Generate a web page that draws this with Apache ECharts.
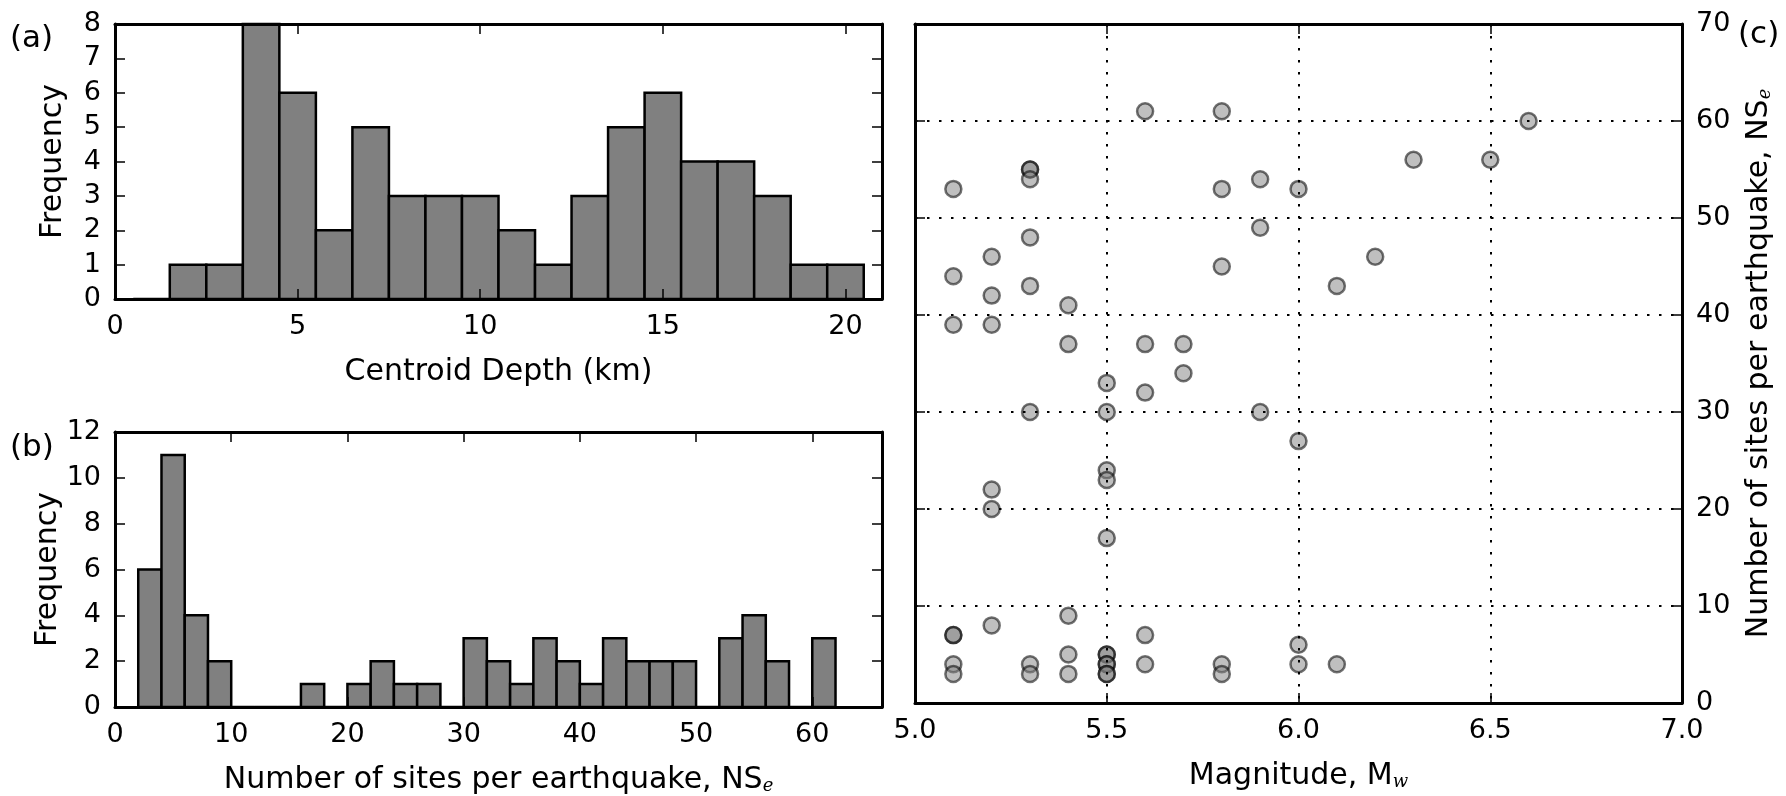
<!DOCTYPE html>
<html>
<head>
<meta charset="utf-8">
<script src="https://cdn.jsdelivr.net/npm/echarts@6/dist/echarts.min.js"></script>
<style>
  html, body { margin: 0; padding: 0; background: #fff; }
  #chart { width: 1786px; height: 796px; }
</style>
</head>
<body>
<div id="chart"></div>
<script>
// (a) Centroid depth histogram: bin edges (km) and counts
const depthEdges = [0.5, 1.5, 2.5, 3.5, 4.5, 5.5, 6.5, 7.5, 8.5, 9.5, 10.5,
                    11.5, 12.5, 13.5, 14.5, 15.5, 16.5, 17.5, 18.5, 19.5, 20.5];
const depthCounts = [0, 1, 1, 8, 6, 2, 5, 3, 3, 3, 2, 1, 3, 5, 6, 4, 4, 3, 1, 1];

// (b) Sites-per-earthquake histogram: bin edges and counts
const sitesEdges = [2, 4, 6, 8, 10, 12, 14, 16, 18, 20, 22, 24, 26, 28, 30, 32,
                    34, 36, 38, 40, 42, 44, 46, 48, 50, 52, 54, 56, 58, 60, 62];
const sitesCounts = [6, 11, 4, 2, 0, 0, 0, 1, 0, 1, 2, 1, 1, 0, 3, 2,
                     1, 3, 2, 1, 3, 2, 2, 2, 0, 3, 4, 2, 0, 3];

// (c) Magnitude vs number of sites, one entry per earthquake
const magnitude = [5.6, 5.8, 6.6, 6.3, 6.5, 5.3, 5.3, 5.3, 5.9, 5.1, 5.8, 6.0,
                   5.9, 5.3, 5.2, 6.2, 5.8, 5.1, 5.3, 6.1, 5.2, 5.4, 5.1, 5.2,
                   5.4, 5.6, 5.7, 5.7, 5.5, 5.6, 5.3, 5.5, 5.9, 6.0, 5.5, 5.5,
                   5.2, 5.2, 5.5, 5.4, 5.2, 5.1, 5.1, 5.6, 6.0, 5.4, 5.5, 5.5,
                   5.1, 5.3, 5.5, 5.5, 5.6, 5.8, 6.0, 6.1, 5.1, 5.3, 5.4, 5.5,
                   5.5, 5.8];
const numSites = [61, 61, 60, 56, 56, 55, 55, 54, 54, 53, 53, 53,
                  49, 48, 46, 46, 45, 44, 43, 43, 42, 41, 39, 39,
                  37, 37, 37, 34, 33, 32, 30, 30, 30, 27, 24, 23,
                  22, 20, 17, 9, 8, 7, 7, 7, 6, 5, 5, 5,
                  4, 4, 4, 4, 4, 4, 4, 4, 3, 3, 3, 3,
                  3, 3];

// Tick settings
const depthTicks = { min: 0, max: 21, interval: 5 };
const depthFreqTicks = { min: 0, max: 8, interval: 1 };
const sitesTicks = { min: 0, max: 66, interval: 10 };
const sitesFreqTicks = { min: 0, max: 12, interval: 2 };
const magTicks = { min: 5.0, max: 7.0, interval: 0.5 };
const nsTicks = { min: 0, max: 70, interval: 10 };

const FONT = 'DejaVu Sans';
const TICK_FS = 27;
const NAME_FS = 30;

function binsToData(edges, counts) {
  return counts.map((c, i) => [edges[i], edges[i + 1], c]);
}

function histRender(params, api) {
  const p0 = api.coord([api.value(0), 0]);
  const p1 = api.coord([api.value(1), api.value(2)]);
  return {
    type: 'rect',
    shape: { x: p0[0], y: p1[1], width: p1[0] - p0[0], height: p0[1] - p1[1] },
    style: { fill: '#808080', stroke: '#000', lineWidth: 2.5 }
  };
}

const frameLine = { show: true, onZero: false, lineStyle: { color: '#000', width: 3 } };
const innerTick = { show: true, inside: true, length: 10, lineStyle: { color: '#000', width: 1.5 } };
const dotted = { show: true, lineStyle: { color: '#000', width: 2, type: [2.5, 9.5] } };

function mainAxis(grid, ticks, position, extra) {
  return Object.assign({
    type: 'value', gridIndex: grid, position: position,
    min: ticks.min, max: ticks.max, interval: ticks.interval,
    z: 5,
    axisLine: frameLine, axisTick: innerTick, splitLine: { show: false },
    axisLabel: {
      show: true, color: '#000', fontFamily: FONT, fontSize: TICK_FS, margin: 14,
      formatter: v => (Math.abs(Math.round((v - ticks.min) / ticks.interval) * ticks.interval + ticks.min - v) < 1e-9) ? String(v) : ''
    },
    nameTextStyle: { color: '#000', fontFamily: FONT, fontSize: NAME_FS,
      rich: { sub: { fontFamily: 'DejaVu Serif', fontStyle: 'italic', fontSize: 18, verticalAlign: 'bottom', color: '#000' } } },
    nameLocation: 'middle'
  }, extra || {});
}

function sideAxis(grid, ticks, position) {
  return {
    type: 'value', gridIndex: grid, position: position,
    min: ticks.min, max: ticks.max, interval: ticks.interval,
    z: 5,
    axisLine: frameLine, axisTick: innerTick, axisLabel: { show: false },
    splitLine: { show: false }
  };
}

const chart = echarts.init(document.getElementById('chart'), null, { renderer: 'canvas' });

chart.setOption({
  backgroundColor: '#fff',
  animation: false,
  grid: [
    { left: 115, top: 24, width: 767, height: 275 },
    { left: 115, top: 432, width: 767, height: 275 },
    { left: 915, top: 24, width: 767, height: 683 }
  ],
  xAxis: [
    mainAxis(0, depthTicks, 'bottom', { name: 'Centroid Depth (km)', nameGap: 58 }),
    sideAxis(0, depthTicks, 'top'),
    mainAxis(1, sitesTicks, 'bottom', { name: 'Number of sites per earthquake, NS{sub|e}', nameGap: 58 }),
    sideAxis(1, sitesTicks, 'top'),
    mainAxis(2, magTicks, 'bottom', {
      name: 'Magnitude, M{sub|w}', nameGap: 58, splitLine: dotted,
      axisLabel: { show: true, color: '#000', fontFamily: FONT, fontSize: TICK_FS, margin: 14,
        formatter: v => v.toFixed(1) }
    }),
    sideAxis(2, magTicks, 'top')
  ],
  yAxis: [
    mainAxis(0, depthFreqTicks, 'left', { name: 'Frequency', nameGap: 47, nameRotate: 90 }),
    sideAxis(0, depthFreqTicks, 'right'),
    mainAxis(1, sitesFreqTicks, 'left', { name: 'Frequency', nameGap: 47, nameRotate: 90 }),
    sideAxis(1, sitesFreqTicks, 'right'),
    mainAxis(2, nsTicks, 'right', {
      name: 'Number of sites per earthquake, NS{sub|e}', nameGap: 62, nameRotate: 90,
      splitLine: dotted
    }),
    sideAxis(2, nsTicks, 'left')
  ],
  series: [
    {
      type: 'custom', xAxisIndex: 0, yAxisIndex: 0, z: 2,
      renderItem: histRender, encode: { x: [0, 1], y: 2 },
      data: binsToData(depthEdges, depthCounts)
    },
    {
      type: 'custom', xAxisIndex: 2, yAxisIndex: 2, z: 2,
      renderItem: histRender, encode: { x: [0, 1], y: 2 },
      data: binsToData(sitesEdges, sitesCounts)
    },
    {
      type: 'scatter', xAxisIndex: 4, yAxisIndex: 4, z: 2,
      symbol: 'circle', symbolSize: 16,
      itemStyle: { color: 'rgba(128,128,128,0.5)', borderColor: 'rgba(0,0,0,0.55)', borderWidth: 2.5, opacity: 1 },
      data: magnitude.map((m, i) => [m, numSites[i]])
    }
  ],
  graphic: [
    { type: 'text', left: 10, top: 23, style: { text: '(a)', font: '31px "DejaVu Sans"', fill: '#000' } },
    { type: 'text', left: 10, top: 432, style: { text: '(b)', font: '31px "DejaVu Sans"', fill: '#000' } },
    { type: 'text', left: 1738, top: 19, style: { text: '(c)', font: '31px "DejaVu Sans"', fill: '#000' } }
  ]
});
</script>
</body>
</html>
